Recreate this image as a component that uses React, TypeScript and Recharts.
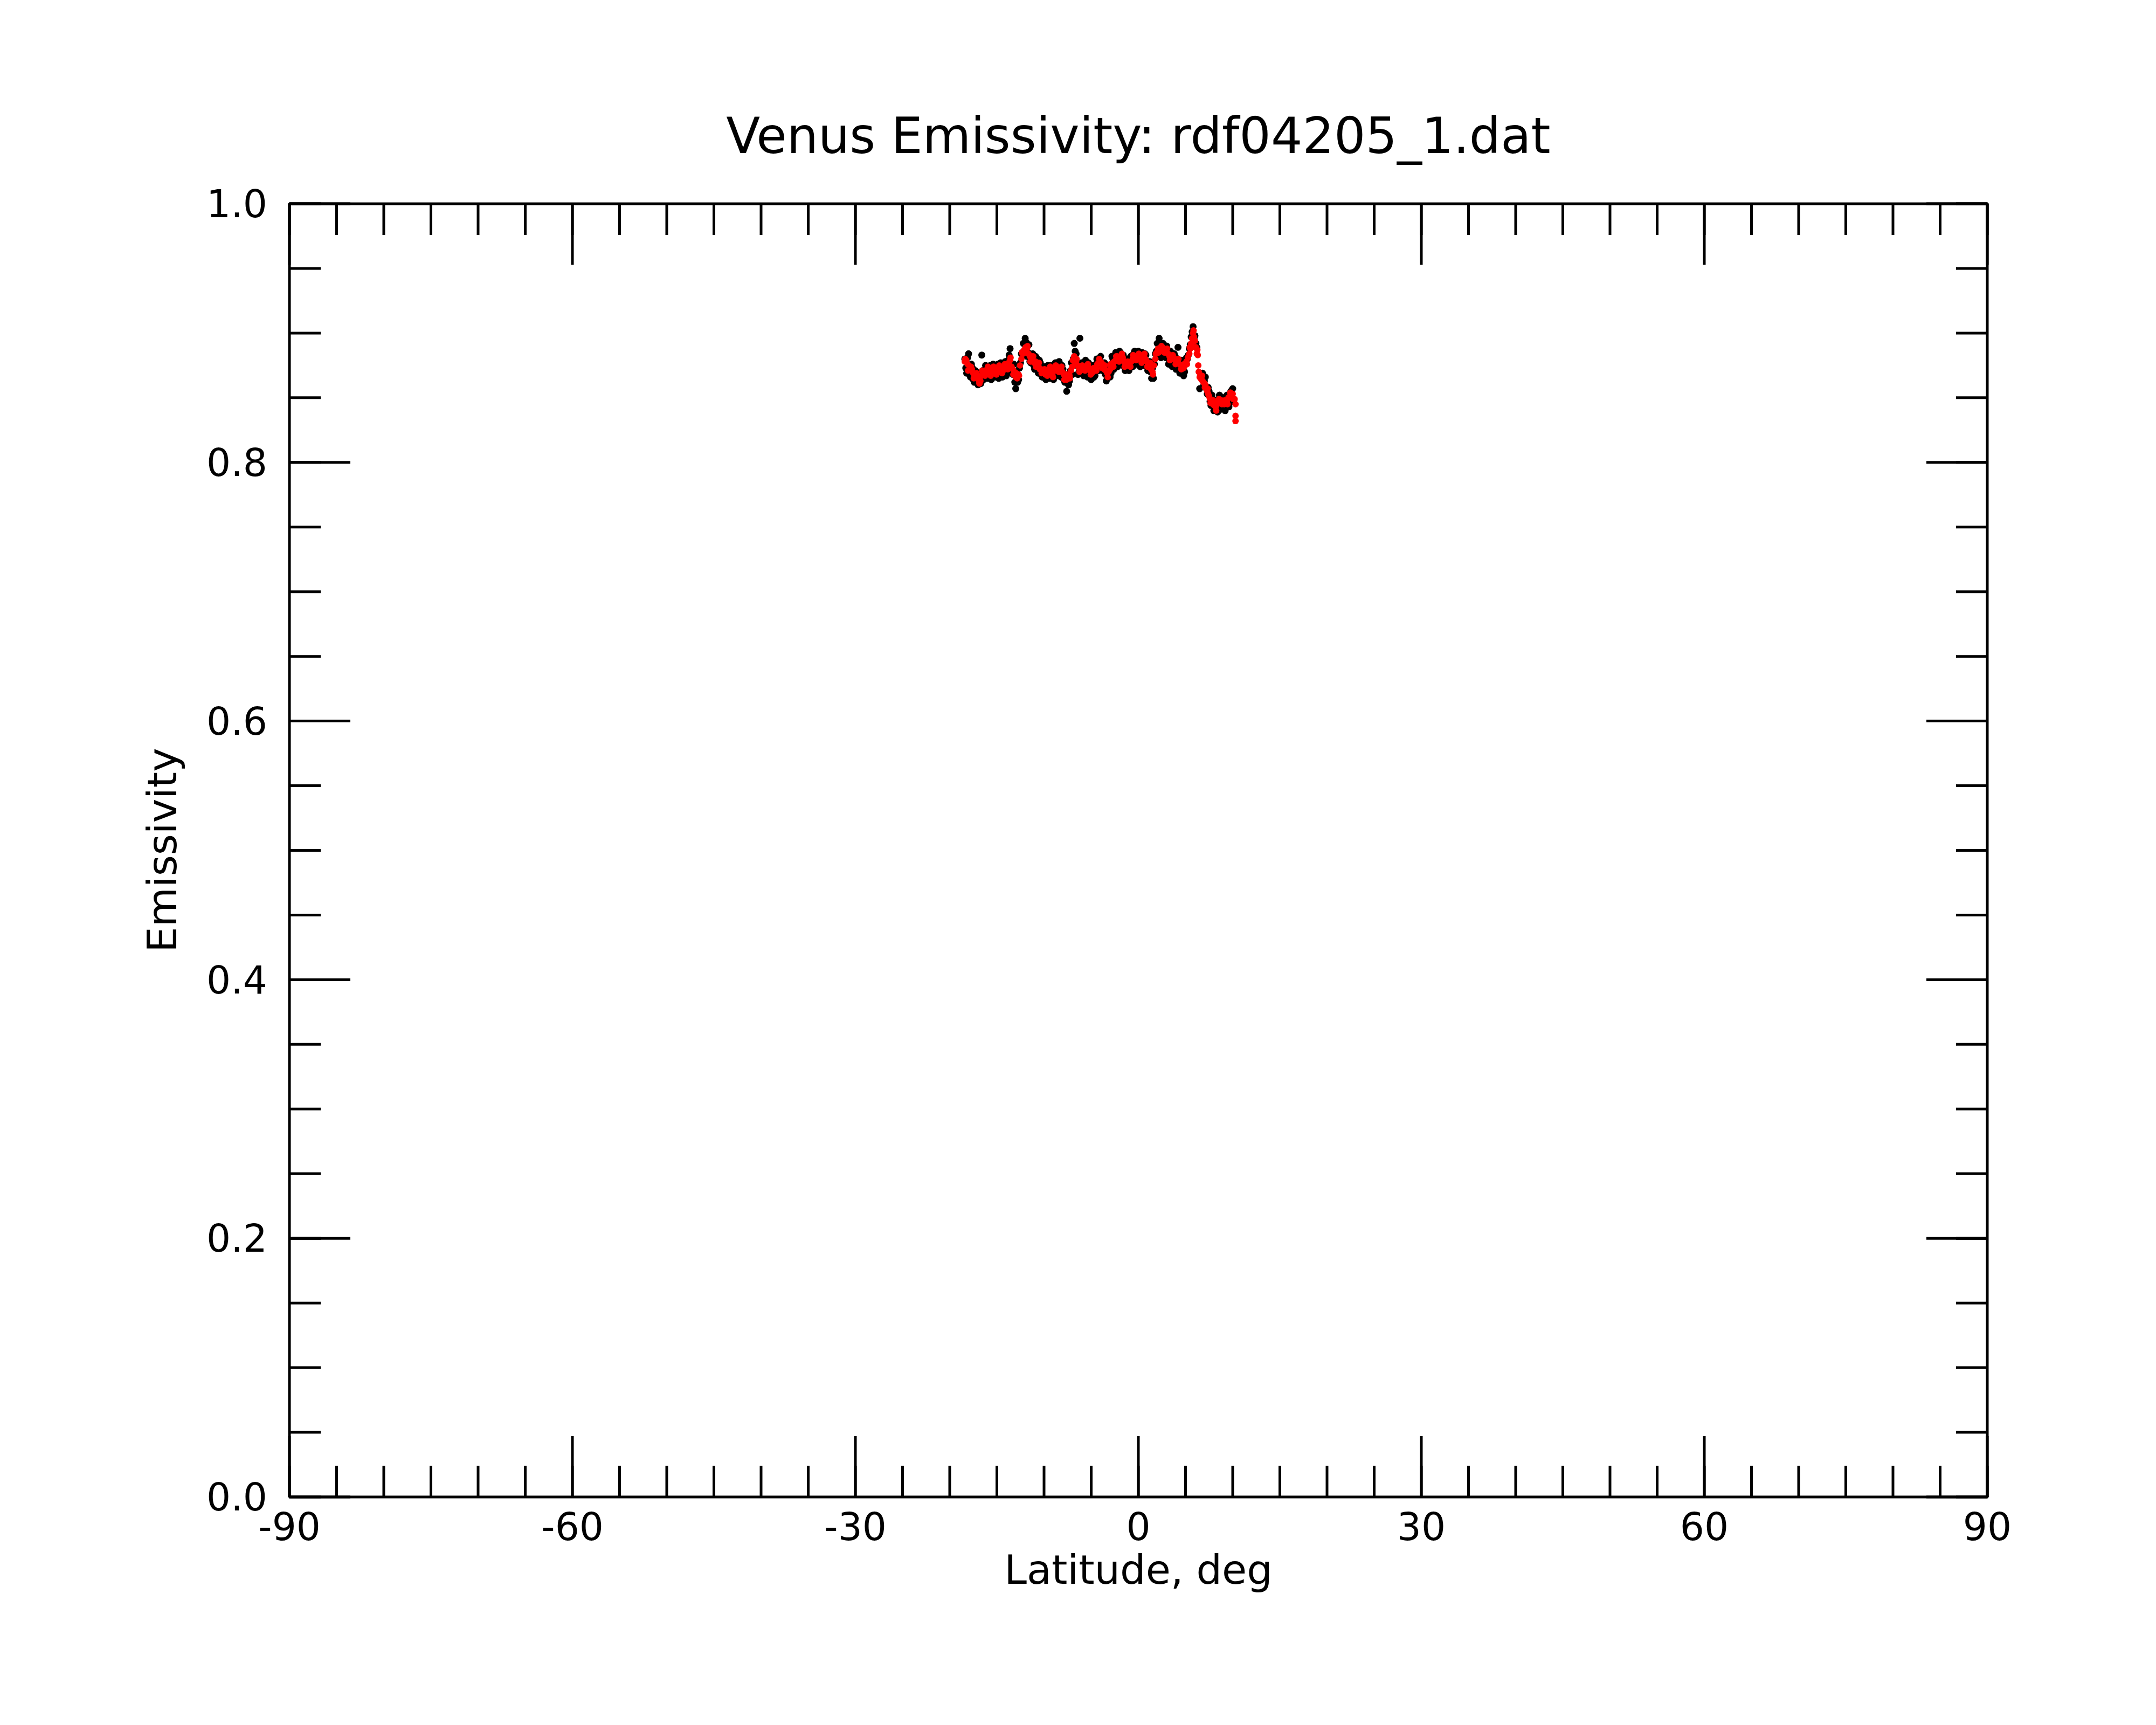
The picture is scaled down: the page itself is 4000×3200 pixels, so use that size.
import React from 'react';
import { ScatterChart, Scatter, XAxis, YAxis } from 'recharts';

// tick positions
const latMajor = [-90, -60, -30, 0, 30, 60, 90];
const latMinor = [
  -90, -85, -80, -75, -70, -65, -60, -55, -50, -45, -40, -35, -30, -25, -20, -15, -10, -5,
  0, 5, 10, 15, 20, 25, 30, 35, 40, 45, 50, 55, 60, 65, 70, 75, 80, 85, 90,
];
const emMajor = [0, 0.2, 0.4, 0.6, 0.8, 1.0];
const emMinor = [
  0, 0.05, 0.1, 0.15, 0.2, 0.25, 0.3, 0.35, 0.4, 0.45, 0.5,
  0.55, 0.6, 0.65, 0.7, 0.75, 0.8, 0.85, 0.9, 0.95, 1.0,
];

// raw emissivity samples [latitude, emissivity] (black)
const rawPoints: [number, number][] = [
  [-18.4, 0.880], [-18.2, 0.869], [-18.0, 0.884], [-17.8, 0.866], [-17.6, 0.873], [-17.4, 0.862],
  [-17.2, 0.870], [-17.0, 0.860], [-16.8, 0.868], [-16.6, 0.883], [-16.4, 0.864], [-16.2, 0.875],
  [-16.0, 0.865], [-15.8, 0.874], [-15.6, 0.864], [-15.4, 0.876], [-15.2, 0.866], [-15.0, 0.875],
  [-14.8, 0.865], [-14.6, 0.877], [-14.4, 0.866], [-14.2, 0.876], [-14.0, 0.867], [-13.8, 0.879],
  [-13.6, 0.888], [-13.4, 0.870], [-13.2, 0.876], [-13.0, 0.857], [-12.8, 0.862], [-12.6, 0.873],
  [-12.4, 0.884], [-12.2, 0.892], [-12.0, 0.896], [-11.8, 0.882], [-11.6, 0.891], [-11.4, 0.877],
  [-11.2, 0.884], [-11.0, 0.872], [-10.8, 0.881], [-10.6, 0.869], [-10.4, 0.877], [-10.2, 0.866],
  [-10.0, 0.874], [-9.8, 0.864], [-9.6, 0.875], [-9.4, 0.865], [-9.2, 0.874], [-9.0, 0.864],
  [-8.8, 0.877], [-8.6, 0.867], [-8.4, 0.878], [-8.2, 0.866], [-8.0, 0.872], [-7.8, 0.862],
  [-7.6, 0.855], [-7.4, 0.860], [-7.2, 0.871], [-7.0, 0.868], [-6.8, 0.892], [-6.6, 0.884],
  [-6.4, 0.868], [-6.2, 0.896], [-6.0, 0.877], [-5.8, 0.867], [-5.6, 0.879], [-5.4, 0.866],
  [-5.2, 0.876], [-5.0, 0.864], [-4.8, 0.875], [-4.6, 0.867], [-4.4, 0.880], [-4.2, 0.871],
  [-4.0, 0.882], [-3.8, 0.871], [-3.6, 0.877], [-3.4, 0.863], [-3.2, 0.874], [-3.0, 0.866],
  [-2.8, 0.882], [-2.6, 0.872], [-2.4, 0.885], [-2.2, 0.874], [-2.0, 0.886], [-1.8, 0.876],
  [-1.6, 0.883], [-1.4, 0.871], [-1.2, 0.880], [-1.0, 0.871], [-0.8, 0.882], [-0.6, 0.874],
  [-0.4, 0.886], [-0.2, 0.876], [0.0, 0.886], [0.2, 0.874], [0.4, 0.885], [0.6, 0.875],
  [0.8, 0.883], [1.0, 0.871], [1.2, 0.878], [1.4, 0.865], [1.6, 0.865], [1.8, 0.884],
  [2.0, 0.892], [2.2, 0.896], [2.4, 0.881], [2.6, 0.892], [2.8, 0.883], [3.0, 0.890],
  [3.2, 0.876], [3.4, 0.886], [3.6, 0.874], [3.8, 0.884], [4.0, 0.872], [4.2, 0.889],
  [4.4, 0.869], [4.6, 0.879], [4.8, 0.867], [5.0, 0.876], [5.2, 0.880], [5.4, 0.888],
  [5.6, 0.897], [5.8, 0.905], [6.0, 0.898], [6.2, 0.889], [6.5, 0.857], [6.8, 0.869],
  [7.0, 0.863], [7.2, 0.857], [7.4, 0.858], [7.6, 0.847], [7.8, 0.852], [8.0, 0.840],
  [8.2, 0.847], [8.4, 0.839], [8.6, 0.852], [8.8, 0.842], [9.0, 0.850], [9.2, 0.840],
  [9.4, 0.852], [9.6, 0.843], [9.8, 0.855], [10.0, 0.857], [10.1, 0.848],
  [-18.3, 0.873], [-18.1, 0.881], [-17.9, 0.868], [-17.7, 0.876], [-17.5, 0.864], [-17.3, 0.871],
  [-17.1, 0.862], [-16.9, 0.867], [-16.7, 0.861], [-16.5, 0.871], [-16.3, 0.866], [-16.1, 0.874],
  [-15.9, 0.867], [-15.7, 0.875], [-15.5, 0.866], [-15.3, 0.874], [-15.1, 0.868], [-14.9, 0.876],
  [-14.7, 0.867], [-14.5, 0.876], [-14.3, 0.868], [-14.1, 0.878], [-13.9, 0.870], [-13.7, 0.883],
  [-13.5, 0.876], [-13.3, 0.868], [-13.1, 0.862], [-12.9, 0.870], [-12.7, 0.864], [-12.5, 0.877],
  [-12.3, 0.885], [-12.1, 0.883], [-11.9, 0.893], [-11.7, 0.885], [-11.5, 0.878], [-11.3, 0.883],
  [-11.1, 0.875], [-10.9, 0.882], [-10.7, 0.872], [-10.5, 0.879], [-10.3, 0.868], [-10.1, 0.873],
  [-9.9, 0.866], [-9.7, 0.874], [-9.5, 0.867], [-9.3, 0.875], [-9.1, 0.866], [-8.9, 0.875],
  [-8.7, 0.869], [-8.5, 0.877], [-8.3, 0.868], [-8.1, 0.875], [-7.9, 0.864], [-7.7, 0.868],
  [-7.5, 0.861], [-7.3, 0.863], [-7.1, 0.877], [-6.9, 0.880], [-6.7, 0.886], [-6.5, 0.875],
  [-6.3, 0.870], [-6.1, 0.876], [-5.9, 0.870], [-5.7, 0.877], [-5.5, 0.869], [-5.3, 0.877],
  [-5.1, 0.867], [-4.9, 0.874], [-4.7, 0.866], [-4.5, 0.876], [-4.3, 0.873], [-4.1, 0.880],
  [-3.9, 0.873], [-3.7, 0.875], [-3.5, 0.868], [-3.3, 0.866], [-3.1, 0.875], [-2.9, 0.869],
  [-2.7, 0.880], [-2.5, 0.875], [-2.3, 0.883], [-2.1, 0.877], [-1.9, 0.885], [-1.7, 0.879],
  [-1.5, 0.874], [-1.3, 0.878], [-1.1, 0.872], [-0.9, 0.880], [-0.7, 0.876], [-0.5, 0.884],
  [-0.3, 0.878], [-0.1, 0.884], [0.1, 0.877], [0.3, 0.884], [0.5, 0.877], [0.7, 0.884],
  [0.9, 0.874], [1.1, 0.877], [1.3, 0.870], [1.5, 0.873], [1.7, 0.876], [1.9, 0.886],
  [2.1, 0.884], [2.3, 0.890], [2.5, 0.884], [2.7, 0.891], [2.9, 0.881], [3.1, 0.887],
  [3.3, 0.879], [3.5, 0.884], [3.7, 0.877], [3.9, 0.882], [4.1, 0.874], [4.3, 0.879],
  [4.5, 0.871], [4.7, 0.876], [4.9, 0.870], [5.1, 0.881], [5.3, 0.883], [5.5, 0.891],
  [5.7, 0.901], [5.9, 0.896], [6.1, 0.892], [6.7, 0.866], [6.9, 0.859], [7.1, 0.866],
  [7.3, 0.853], [7.5, 0.855], [7.7, 0.844], [7.9, 0.849], [8.1, 0.843], [8.3, 0.844],
  [8.5, 0.849], [8.7, 0.841], [8.9, 0.846], [9.1, 0.843], [9.3, 0.846], [9.5, 0.849],
  [9.7, 0.846], [9.9, 0.851],
];

// smoothed emissivity [latitude, emissivity] (red)
const smoothPoints: [number, number][] = [
  [-18.4, 0.878], [-18.1, 0.876], [-17.8, 0.872], [-17.5, 0.869], [-17.2, 0.866], [-16.9, 0.863],
  [-16.6, 0.867], [-16.3, 0.871], [-16.0, 0.870], [-15.7, 0.871], [-15.4, 0.870], [-15.1, 0.872],
  [-14.8, 0.871], [-14.5, 0.873], [-14.2, 0.872], [-13.9, 0.874], [-13.6, 0.879], [-13.3, 0.872],
  [-13.0, 0.866], [-12.7, 0.868], [-12.4, 0.880], [-12.1, 0.887], [-11.8, 0.888], [-11.5, 0.882],
  [-11.2, 0.879], [-10.9, 0.878], [-10.6, 0.875], [-10.3, 0.872], [-10.0, 0.869], [-9.7, 0.870],
  [-9.4, 0.871], [-9.1, 0.869], [-8.8, 0.872], [-8.5, 0.873], [-8.2, 0.871], [-7.9, 0.868],
  [-7.6, 0.864], [-7.3, 0.867], [-7.0, 0.874], [-6.8, 0.882], [-6.6, 0.878], [-6.3, 0.873],
  [-6.0, 0.872], [-5.7, 0.874], [-5.4, 0.873], [-5.1, 0.871], [-4.8, 0.870], [-4.5, 0.873],
  [-4.2, 0.877], [-3.9, 0.877], [-3.6, 0.872], [-3.3, 0.869], [-3.0, 0.872], [-2.7, 0.877],
  [-2.4, 0.879], [-2.1, 0.881], [-1.8, 0.882], [-1.5, 0.878], [-1.2, 0.875], [-0.9, 0.877],
  [-0.6, 0.880], [-0.3, 0.882], [0.0, 0.881], [0.3, 0.880], [0.6, 0.881], [0.9, 0.878],
  [1.2, 0.874], [1.5, 0.870], [1.8, 0.880], [2.1, 0.888], [2.4, 0.887], [2.7, 0.888],
  [3.0, 0.885], [3.3, 0.882], [3.6, 0.880], [3.9, 0.879], [4.2, 0.877], [4.5, 0.875],
  [4.8, 0.873], [5.1, 0.878], [5.4, 0.884], [5.6, 0.892], [5.8, 0.900], [6.0, 0.894],
  [6.2, 0.884], [6.3, 0.883], [6.35, 0.875], [6.4, 0.870], [6.5, 0.866], [6.7, 0.864],
  [6.9, 0.862], [7.1, 0.860], [7.3, 0.855], [7.5, 0.851], [7.7, 0.848], [7.9, 0.845],
  [8.2, 0.843], [8.5, 0.846], [8.8, 0.848], [9.1, 0.845], [9.4, 0.848], [9.7, 0.851],
  [10.0, 0.853], [10.2, 0.849], [10.3, 0.845], [10.3, 0.836], [10.3, 0.832],
  [-18.25, 0.879], [-17.95, 0.872], [-17.65, 0.872], [-17.35, 0.866], [-17.05, 0.866], [-16.75, 0.863],
  [-16.45, 0.870], [-16.15, 0.869], [-15.85, 0.872], [-15.55, 0.869], [-15.25, 0.873], [-14.95, 0.870],
  [-14.65, 0.874], [-14.35, 0.871], [-14.05, 0.875], [-13.75, 0.877], [-13.45, 0.874], [-13.15, 0.870],
  [-12.85, 0.865], [-12.55, 0.875], [-12.25, 0.884], [-11.95, 0.889], [-11.65, 0.884], [-11.35, 0.882],
  [-11.05, 0.877], [-10.75, 0.877], [-10.45, 0.872], [-10.15, 0.871], [-9.85, 0.868], [-9.55, 0.872],
  [-9.25, 0.868], [-8.95, 0.871], [-8.65, 0.874], [-8.35, 0.870], [-8.05, 0.870], [-7.75, 0.865],
  [-7.45, 0.866], [-7.15, 0.871], [-6.9, 0.879], [-6.7, 0.880], [-6.45, 0.875], [-6.15, 0.871],
  [-5.85, 0.874], [-5.55, 0.872], [-5.25, 0.873], [-4.95, 0.869], [-4.65, 0.872], [-4.35, 0.876],
  [-4.05, 0.878], [-3.75, 0.874], [-3.45, 0.871], [-3.15, 0.870], [-2.85, 0.875], [-2.55, 0.878],
  [-2.25, 0.882], [-1.95, 0.880], [-1.65, 0.881], [-1.35, 0.876], [-1.05, 0.877], [-0.75, 0.878],
  [-0.45, 0.882], [-0.15, 0.880], [0.15, 0.882], [0.45, 0.879], [0.75, 0.880], [1.05, 0.876],
  [1.35, 0.872], [1.65, 0.875], [1.95, 0.885], [2.25, 0.886], [2.55, 0.889], [2.85, 0.886],
  [3.15, 0.884], [3.45, 0.880], [3.75, 0.881], [4.05, 0.877], [4.35, 0.876], [4.65, 0.873],
  [4.95, 0.875], [5.25, 0.881], [5.5, 0.888], [5.7, 0.896], [5.9, 0.897], [6.1, 0.889],
  [6.6, 0.865], [6.8, 0.863], [7.0, 0.861], [7.2, 0.857], [7.4, 0.853], [7.6, 0.849],
  [7.8, 0.846], [8.05, 0.844], [8.35, 0.845], [8.65, 0.847], [8.95, 0.846], [9.25, 0.847],
  [9.55, 0.850], [9.85, 0.852],
  [-18.35, 0.880], [-18.05, 0.871], [-17.75, 0.874], [-17.45, 0.865], [-17.15, 0.869], [-16.85, 0.861],
  [-16.55, 0.871], [-16.25, 0.867], [-15.95, 0.874], [-15.65, 0.867], [-15.35, 0.874], [-15.05, 0.868],
  [-14.75, 0.875], [-14.45, 0.869], [-14.15, 0.876], [-13.85, 0.872], [-13.55, 0.881], [-13.25, 0.868],
  [-12.95, 0.869], [-12.65, 0.867], [-12.35, 0.885], [-12.05, 0.885], [-11.75, 0.890], [-11.45, 0.878],
  [-11.15, 0.882], [-10.85, 0.874], [-10.55, 0.877], [-10.25, 0.869], [-9.95, 0.872], [-9.65, 0.867],
  [-9.35, 0.874], [-9.05, 0.866], [-8.75, 0.875], [-8.45, 0.870], [-8.15, 0.874], [-7.85, 0.864],
  [-7.55, 0.868], [-7.25, 0.865], [-6.95, 0.879], [-6.75, 0.878], [-6.55, 0.880], [-6.25, 0.870],
  [-5.95, 0.875], [-5.65, 0.871], [-5.35, 0.876], [-5.05, 0.868], [-4.75, 0.873], [-4.45, 0.871],
  [-4.15, 0.880], [-3.85, 0.873], [-3.55, 0.875], [-3.25, 0.866], [-2.95, 0.876], [-2.65, 0.874],
  [-2.35, 0.882], [-2.05, 0.878], [-1.75, 0.884], [-1.45, 0.874], [-1.15, 0.878], [-0.85, 0.874],
  [-0.55, 0.883], [-0.25, 0.879], [0.05, 0.884], [0.35, 0.877], [0.65, 0.884], [0.95, 0.874],
  [1.25, 0.877], [1.55, 0.868], [1.85, 0.884], [2.15, 0.885], [2.45, 0.890], [2.75, 0.885],
  [3.05, 0.888], [3.35, 0.879], [3.65, 0.883], [3.95, 0.876], [4.25, 0.880], [4.55, 0.872],
  [4.85, 0.876], [5.15, 0.876], [5.45, 0.889], [5.65, 0.891], [5.85, 0.902], [6.05, 0.889],
  [6.25, 0.887], [6.75, 0.867], [7.05, 0.858], [7.35, 0.857], [7.65, 0.846], [7.95, 0.848],
  [8.25, 0.840], [8.55, 0.849], [8.85, 0.845], [9.15, 0.848], [9.45, 0.845], [9.75, 0.854],
  [10.05, 0.849],
];

const rawData = rawPoints.map(([lat, em]) => ({ lat, em }));
const smoothData = smoothPoints.map(([lat, em]) => ({ lat, em }));

const W = 4000;
const H = 3200;
const FONT = 'DejaVu Sans';
const line = { stroke: '#000', strokeWidth: 5 };
const tickFont = { fill: '#000', fontSize: 71, fontFamily: FONT };

const dot = (color: string, r: number) => (props: any) => (
  <circle cx={props.cx} cy={props.cy} r={r} fill={color} />
);
const noDot = () => <g />;
// tick marks only, no label (tick={false} would drop the marks too)
const noLabel = () => <g />;

export default function App() {
  return (
    <div style={{ position: 'absolute', left: 0, top: 0, width: W, height: H, background: '#fff' }}>
      <ScatterChart
        width={W}
        height={H}
        margin={{ top: 376, left: 535, right: 311, bottom: 421 }}
      >
        <XAxis
          xAxisId="x"
          dataKey="lat"
          type="number"
          domain={[-90, 90]}
          ticks={latMajor}
          interval={0}
          orientation="bottom"
          height={1}
          tickSize={-113}
          tickMargin={143}
          axisLine={line}
          tickLine={line}
          tick={tickFont}
          allowDataOverflow
        />
        <XAxis
          xAxisId="xMinor"
          dataKey="lat"
          type="number"
          domain={[-90, 90]}
          ticks={latMinor}
          interval={0}
          orientation="bottom"
          height={1}
          tickSize={-59}
          axisLine={false}
          tickLine={line}
          tick={noLabel}
          allowDataOverflow
        />
        <XAxis
          xAxisId="xTop"
          dataKey="lat"
          type="number"
          domain={[-90, 90]}
          ticks={latMajor}
          interval={0}
          orientation="top"
          height={1}
          tickSize={-113}
          axisLine={line}
          tickLine={line}
          tick={noLabel}
          allowDataOverflow
        />
        <XAxis
          xAxisId="xTopMinor"
          dataKey="lat"
          type="number"
          domain={[-90, 90]}
          ticks={latMinor}
          interval={0}
          orientation="top"
          height={1}
          tickSize={-59}
          axisLine={false}
          tickLine={line}
          tick={noLabel}
          allowDataOverflow
        />
        <YAxis
          yAxisId="y"
          dataKey="em"
          type="number"
          domain={[0, 1]}
          ticks={emMajor}
          interval={0}
          orientation="left"
          width={1}
          tickSize={-113}
          tickMargin={154}
          axisLine={line}
          tickLine={line}
          tick={tickFont}
          tickFormatter={(v: number) => v.toFixed(1)}
          allowDataOverflow
        />
        <YAxis
          yAxisId="yMinor"
          dataKey="em"
          type="number"
          domain={[0, 1]}
          ticks={emMinor}
          interval={0}
          orientation="left"
          width={1}
          tickSize={-59}
          axisLine={false}
          tickLine={line}
          tick={noLabel}
          allowDataOverflow
        />
        <YAxis
          yAxisId="yRight"
          dataKey="em"
          type="number"
          domain={[0, 1]}
          ticks={emMajor}
          interval={0}
          orientation="right"
          width={1}
          tickSize={-113}
          axisLine={line}
          tickLine={line}
          tick={noLabel}
          allowDataOverflow
        />
        <YAxis
          yAxisId="yRightMinor"
          dataKey="em"
          type="number"
          domain={[0, 1]}
          ticks={emMinor}
          interval={0}
          orientation="right"
          width={1}
          tickSize={-59}
          axisLine={false}
          tickLine={line}
          tick={noLabel}
          allowDataOverflow
        />
        {/* invisible series so the frame axes get their scales */}
        <Scatter data={rawData} xAxisId="xMinor" yAxisId="yMinor" shape={noDot} isAnimationActive={false} />
        <Scatter data={rawData} xAxisId="xTop" yAxisId="yRight" shape={noDot} isAnimationActive={false} />
        <Scatter data={rawData} xAxisId="xTopMinor" yAxisId="yRightMinor" shape={noDot} isAnimationActive={false} />
        <Scatter
          data={rawData}
          xAxisId="x"
          yAxisId="y"
          fill="#000"
          shape={dot('#000', 6.5)}
          isAnimationActive={false}
        />
        <Scatter
          data={smoothData}
          xAxisId="x"
          yAxisId="y"
          fill="#ff0000"
          shape={dot('#ff0000', 6)}
          isAnimationActive={false}
        />
      </ScatterChart>
      <svg
        width={W}
        height={H}
        style={{ position: 'absolute', left: 0, top: 0, pointerEvents: 'none' }}
      >
        <text x={2112} y={284} textAnchor="middle" fontFamily={FONT} fontSize={92} fill="#000">
          Venus Emissivity: rdf04205_1.dat
        </text>
        <text x={2112} y={2938} textAnchor="middle" fontFamily={FONT} fontSize={75} fill="#000">
          Latitude, deg
        </text>
        <text
          transform="translate(327,1577) rotate(-90)"
          textAnchor="middle"
          fontFamily={FONT}
          fontSize={75}
          fill="#000"
        >
          Emissivity
        </text>
      </svg>
    </div>
  );
}
